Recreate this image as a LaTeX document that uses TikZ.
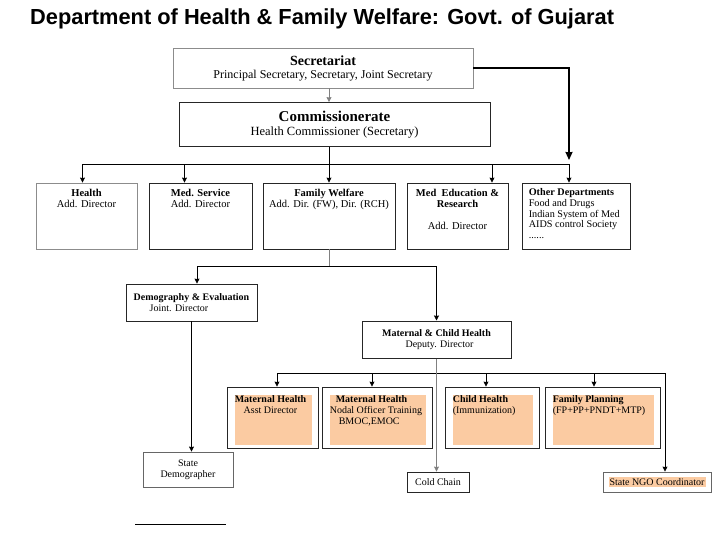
\documentclass[tikz,border=0pt]{standalone}
\usepackage{fontspec}
\setmainfont{Liberation Serif}
\newfontfamily\headfont{Liberation Sans}
\usetikzlibrary{arrows.meta,positioning,calc}
\definecolor{peach}{RGB}{251,203,162}
\tikzset{
  box/.style={draw=black!85,line width=0.8pt,fill=white,inner sep=2pt,align=center,font=\fontsize{10}{11}\selectfont},
  pbox/.style={box,path picture={\fill[peach] ([xshift=8pt,yshift=-8pt]path picture bounding box.north west) rectangle ([xshift=-6pt,yshift=3pt]path picture bounding box.south east);}},
  txt/.style={inner sep=1pt,font=\fontsize{10}{11}\selectfont},
  arr/.style={-{Stealth[length=5pt,width=5pt,inset=0.5pt]},line width=0.8pt},
  bigarr/.style={-{Stealth[length=8pt,width=7pt,inset=0.5pt]},line width=1.8pt},
  lnk/.style={line width=0.8pt}
}
\begin{document}
\begin{tikzpicture}[x=1pt,y=-1pt]
\useasboundingbox (0,0) rectangle (720,540);
\node[anchor=base west,inner sep=0pt,font=\headfont\bfseries\fontsize{21.8}{24}\selectfont] (title) at (30,25) {Department of Health \& Family Welfare: Govt. of Gujarat};
\node[box,draw=black!45,minimum width=300,minimum height=40,font=\fontsize{12}{13}\selectfont] (sec) at (323,68) {{\fontsize{14}{15}\selectfont\bfseries Secretariat}\\Principal Secretary, Secretary, Joint Secretary};
\node[box,minimum width=311,minimum height=44,font=\fontsize{12.5}{13.5}\selectfont] (comm) at (334.5,124.5) {{\fontsize{15}{15}\selectfont\bfseries Commissionerate}\\Health Commissioner (Secretary)};
\coordinate (b1) at (329,164);
\draw[arr,black!50] (sec.south -| b1) -- (comm.north -| b1);
\draw[lnk] (comm.south -| b1) -- (b1);
\foreach \n/\x/\w/\dx/\c/\t in {
health/86.5/101/-4/black!45/{\textbf{Health}\\Add. Director},
medser/200.5/103/-16/black!85/{\textbf{Med. Service}\\Add. Director},
fw/329/132/0/black!85/{\textbf{Family Welfare}\\Add. Dir. (FW), Dir. (RCH)},
medu/457.5/101/34.5/black!85/{\textbf{Med\ \ Education \&}\\\textbf{Research}\\[11pt]Add. Director}}{
  \node[box,draw=\c,minimum width=\w,minimum height=66] (\n) at (\x,216) {};
  \node[txt,anchor=north,align=center,font=\fontsize{10.5}{11}\selectfont] (\n-t) at ([yshift=-5pt]\n.north) {\t};
  \coordinate (\n-in) at ([xshift=\dx pt]\n.north);
  \draw[arr] (b1) -| (\n-in);
}
\node[box,minimum width=108,minimum height=66] (other) at (576,216) {};
\node[txt,anchor=north west,align=left,font=\fontsize{10.2}{10.6}\selectfont] (other-t) at ([xshift=6pt,yshift=-5pt]other.north west) {\textbf{Other Departments}\\Food and Drugs\\Indian System of Med\\AIDS control Society\\......};
\coordinate (other-in) at ([xshift=-7pt]other.north);
\draw[arr] (b1) -| (other-in);
\draw[bigarr,shorten >=4pt] (sec.east) -| (other-in |- b1);
\coordinate (b2) at (329,266);
\draw[lnk,black!50] (fw.south) -- (b2);
\node[box,align=left,minimum width=131,minimum height=37] (demo) at (191.5,302.5) {\textbf{Demography \& Evaluation}\\\hspace*{16pt}Joint. Director};
\node[box,line width=1pt,minimum width=149,minimum height=37] (mch) at (436.5,339.5) {\textbf{Maternal \& Child Health}\\\hspace*{6pt}Deputy. Director};
\coordinate (demo-in) at ([xshift=5.5pt]demo.north);
\draw[arr] (b2) -| (demo-in);
\draw[arr] (b2) -| (mch.north);
\node[box,draw=black!60,minimum width=90,minimum height=35] (sdem) at (188,469.5) {State\\Demographer};
\draw[arr] (demo.south) -- (demo.south |- sdem.north);
\coordinate (b3) at (437,373);
\foreach \n/\x/\w/\dx/\al/\t in {
mha/272.5/91/4.5/center/{\textbf{Maternal Health}\\Asst Director},
mhn/377/110/-5/left/{\hspace*{6pt}\textbf{Maternal Health}\\Nodal Officer Training\\\hspace*{9pt}BMOC,EMOC},
ch/492/94/-6/left/{\textbf{Child Health}\\(Immunization)},
fp/602.5/115/-8.5/left/{\textbf{Family Planning}\\(FP+PP+PNDT+MTP)}}{
  \node[pbox,minimum width=\w,minimum height=61] (\n) at (\x,417.5) {};
  \node[txt,anchor=north west,align=\al] (\n-t) at ([xshift=7pt,yshift=-8pt]\n.north west) {\t};
  \coordinate (\n-in) at ([xshift=\dx pt]\n.north);
  \draw[arr] (b3) -| (\n-in);
}
\node[box,minimum width=62,minimum height=20] (cold) at (438,482) {Cold Chain};
\node[box,draw=black!60,minimum width=108,minimum height=20] (ngo) at (657,482) {{\setlength{\fboxsep}{1pt}\colorbox{peach}{State NGO Coordinator}}};
\draw[arr,black!50] (mch.south) -- (mch.south |- cold.north);
\coordinate (ngo-in) at ([xshift=8pt]ngo.north);
\draw[arr] (b3) -| (ngo-in);
\draw[lnk] (135,524) -- (226,524);
\end{tikzpicture}
\end{document}
